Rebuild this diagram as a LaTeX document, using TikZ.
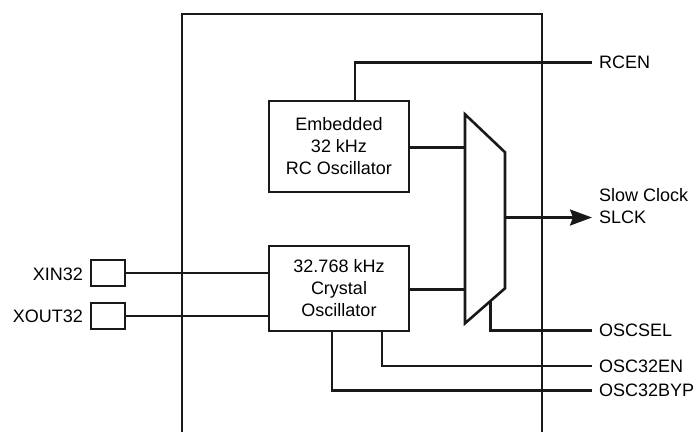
\documentclass[tikz,border=0pt]{standalone}
\usepackage{fontspec}
\setmainfont{Liberation Sans}
\usetikzlibrary{arrows.meta,calc}
\begin{document}
\begin{tikzpicture}[x=1pt,y=-1pt,
  thickln/.style={line width=2.6pt,draw=black!90},
  thinln/.style={line width=1.3pt,draw=black!90},
  blk/.style={draw=black!90,line width=2.4pt,minimum width=140pt,inner sep=0pt,align=center,font=\fontsize{18}{22}\selectfont},
  pin/.style={draw=black!90,line width=2.4pt,minimum width=34pt,minimum height=26pt,inner sep=0pt},
  lbl/.style={font=\fontsize{18}{22}\selectfont,inner sep=0pt,align=left}]
\useasboundingbox (0,0) rectangle (699,432);
% outer block
\draw[thickln] (182,432) -- (182,14) -- (542,14) -- (542,432);
% blocks
\node[blk,minimum height=91pt] (rc) at (339,146.5) {Embedded\\32 kHz\\RC Oscillator};
\node[blk,minimum height=85pt] (xo) at (339,288.5) {32.768 kHz\\Crystal\\Oscillator};
% mux
\coordinate (mtl) at (465,114.3);
\coordinate (mtr) at (505,152.3);
\coordinate (mbr) at (505,288.3);
\coordinate (mbl) at (465,323.3);
\draw[thickln,line join=miter] (mtl) -- (mtr) -- (mbr) -- (mbl) -- cycle;
\coordinate (min1) at (465,147.7);
\coordinate (min2) at (465,289.7);
\coordinate (mout) at (505,217.5);
\coordinate (msel) at ($(mbr)!0.36!(mbl)$);
% pins
\node[pin] (xin) at (108,273) {};
\node[pin] (xout) at (108,316) {};
\node[lbl,anchor=east] (xinl) at (83,274) {XIN32};
\node[lbl,anchor=east] (xoutl) at (83,316) {XOUT32};
% right side ends
\coordinate (rcen) at (591.5,62.3);
\coordinate (slck) at (592,217.5);
\coordinate (osel) at (591.5,330.7);
\coordinate (oen) at (591.5,366);
\coordinate (obyp) at (591.5,390.7);
\node[lbl,anchor=west] (rcenl) at (599,62.3) {RCEN};
\node[lbl,anchor=west] (slckl) at (599,206) {Slow Clock\\SLCK};
\node[lbl,anchor=west] (osell) at (599,330.7) {OSCSEL};
\node[lbl,anchor=west] (oenl) at (599,366) {OSC32EN};
\node[lbl,anchor=west] (obypl) at (599,390.7) {OSC32BYP};
% connections
\draw[thinln] (xin.east) -- (xin.east -| xo.west);
\draw[thinln] (xout.east) -- (xout.east -| xo.west);
\draw[thickln] ([xshift=16pt]rc.north) |- (rcen);
\draw[thickln] (rc.east |- min1) -- (min1);
\draw[thickln] (xo.east |- min2) -- (min2);
\draw[thickln,-{Stealth[length=22pt,width=16pt,inset=3pt]}] (mout) -- (slck);
\draw[thickln] (msel) |- (osel);
\draw[thickln] ([xshift=43pt]xo.south) |- (oen);
\draw[thickln] ([xshift=-7pt]xo.south) |- (obyp);
\end{tikzpicture}
\end{document}
